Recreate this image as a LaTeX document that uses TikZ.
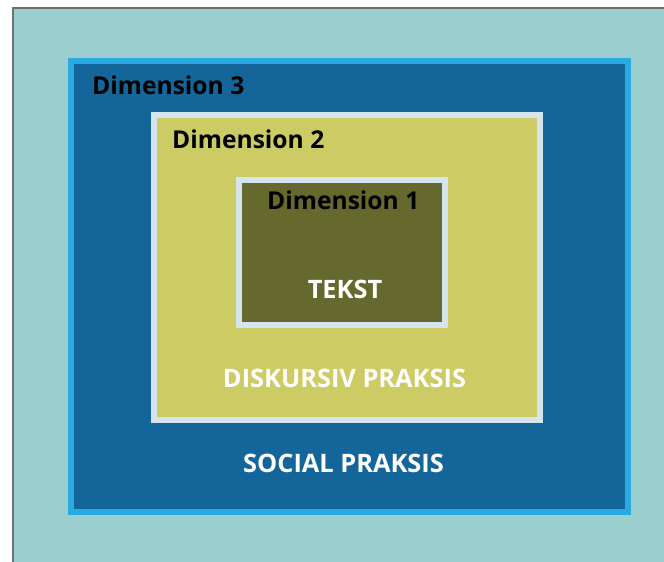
\documentclass[tikz,border=0pt]{standalone}
\usepackage{fontspec}
\setmainfont{Open Sans}
\definecolor{outerfill}{HTML}{9BCFCF}
\definecolor{outerline}{HTML}{707070}
\definecolor{dimthreeline}{HTML}{29ABE2}
\definecolor{dimthreefill}{HTML}{14669A}
\definecolor{paleline}{HTML}{D5E5EF}
\definecolor{dimtwofill}{HTML}{CDCB64}
\definecolor{dimonefill}{HTML}{66692D}
\tikzset{
  dimlabel/.style={font=\bfseries\fontsize{24.6}{28}\selectfont, text=black, inner sep=0pt, anchor=west},
  praxlabel/.style={font=\bfseries\fontsize{25.4}{29}\selectfont, text=white, inner sep=0pt},
}
\begin{document}
\begin{tikzpicture}[x=1pt,y=-1pt]
\useasboundingbox (0,0) rectangle (664,562);
\clip (0,0) rectangle (664,562);
\fill[white] (0,0) rectangle (664,562);
\draw[outerline, line width=2pt, fill=outerfill] (13,8) rectangle (700,600);
\draw[dimthreeline, line width=6pt, fill=dimthreefill] (71,61) rectangle (628,512);
\draw[paleline, line width=6pt, fill=dimtwofill] (154,115) rectangle (540,420);
\draw[paleline, line width=5.5pt, fill=dimonefill] (239,180) rectangle (445,325);
\node[dimlabel] (d3) at (92,85) {Dimension 3};
\node[dimlabel] (d2) at (172,139) {Dimension 2};
\node[dimlabel] (d1) at (267,200) {Dimension 1};
\node[praxlabel] (tekst) at (345,289) {TEKST};
\node[praxlabel] (disk) at (344.5,378) {DISKURSIV PRAKSIS};
\node[praxlabel] (social) at (343.5,463) {SOCIAL PRAKSIS};
\end{tikzpicture}
\end{document}
